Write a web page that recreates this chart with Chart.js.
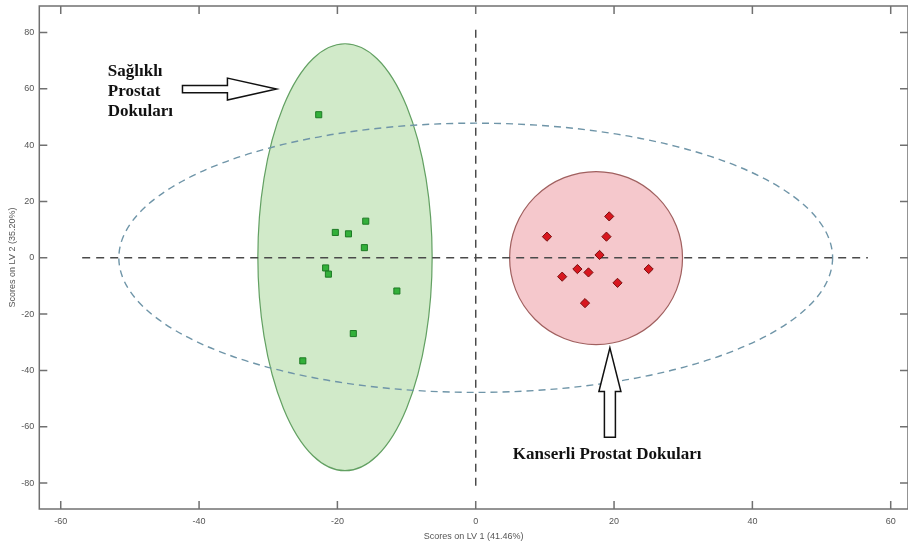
<!DOCTYPE html>
<html>
<head>
<meta charset="utf-8">
<script src="https://cdn.jsdelivr.net/npm/chart.js@4.4.0/dist/chart.umd.min.js"></script>
<style>
  html, body { margin: 0; padding: 0; background: #fff; }
  #wrap { width: 908px; height: 550px; }
</style>
</head>
<body>
<div id="wrap"><canvas id="chart" width="908" height="550"></canvas></div>
<script>
const xTicks = [-60, -40, -20, 0, 20, 40, 60];
const yTicks = [-80, -60, -40, -20, 0, 20, 40, 60, 80];

// LV1 / LV2 scores
const healthyX = [-22.7, -15.9, -20.3, -18.4, -16.1, -21.7, -21.3, -11.4, -17.7, -25.0];
const healthyY = [50.8, 13.0, 9.0, 8.5, 3.6, -3.6, -5.8, -11.8, -26.9, -36.6];
const cancerX = [19.3, 10.3, 18.9, 17.9, 14.7, 16.3, 12.5, 25.0, 20.5, 15.8];
const cancerY = [14.7, 7.5, 7.5, 1.0, -4.0, -5.2, -6.7, -4.0, -8.9, -16.1];

// ellipses: centre x, centre y, half width, half height (data units)
const healthyEllipse = [-18.9, 0.2, 12.6, 75.8];
const cancerEllipse = [17.4, -0.1, 12.5, 30.7];
const totalEllipse = [0, 0, 51.6, 47.8];

// dashed origin lines
const zeroLineX = [-56.9, 56.7];
const zeroLineY = [81, -81];

const healthyLabel = ['Sağlıklı', 'Prostat', 'Dokuları'];
const cancerLabel = 'Kanserli Prostat Dokuları';

const toPoints = (xs, ys) => xs.map((x, i) => ({ x: x, y: ys[i] }));

const ellipsePlugin = {
    id: 'ellipses',
    beforeDatasetsDraw(chart) {
        const ctx = chart.ctx;
        const sx = chart.scales.x, sy = chart.scales.y;
        function drawEllipse(e, fill, stroke, width, dash) {
            const cx = sx.getPixelForValue(e[0]);
            const cy = sy.getPixelForValue(e[1]);
            const rx = Math.abs(sx.getPixelForValue(e[0] + e[2]) - cx);
            const ry = Math.abs(sy.getPixelForValue(e[1] + e[3]) - cy);
            ctx.save();
            ctx.beginPath();
            ctx.ellipse(cx, cy, rx, ry, 0, 0, Math.PI * 2);
            if (fill) {
                ctx.fillStyle = fill;
                ctx.fill();
            }
            ctx.setLineDash(dash || []);
            ctx.lineWidth = width;
            ctx.strokeStyle = stroke;
            ctx.stroke();
            ctx.restore();
        }
        drawEllipse(healthyEllipse, '#d1eac9', '#62a062', 1.2);
        drawEllipse(cancerEllipse, '#f5c8cc', '#a0605f', 1.2);
        drawEllipse(totalEllipse, null, '#6f95a8', 1.4, [7, 5]);
    }
};

const framePlugin = {
    id: 'frame',
    afterDatasetsDraw(chart) {
        const ctx = chart.ctx;
        const a = chart.chartArea;
        const sx = chart.scales.x, sy = chart.scales.y;
        const tick = 8;
        ctx.save();
        ctx.strokeStyle = '#707070';
        ctx.lineWidth = 1.5;
        ctx.strokeRect(a.left, a.top, a.right - a.left, a.bottom - a.top);
        ctx.beginPath();
        xTicks.forEach(v => {
            const px = sx.getPixelForValue(v);
            ctx.moveTo(px, a.bottom); ctx.lineTo(px, a.bottom - tick);
            ctx.moveTo(px, a.top); ctx.lineTo(px, a.top + tick);
        });
        yTicks.forEach(v => {
            const py = sy.getPixelForValue(v);
            ctx.moveTo(a.left, py); ctx.lineTo(a.left + tick, py);
            ctx.moveTo(a.right, py); ctx.lineTo(a.right - tick, py);
        });
        ctx.stroke();
        ctx.restore();
    }
};

const notePlugin = {
    id: 'notes',
    afterDatasetsDraw(chart) {
        const ctx = chart.ctx;
        const sx = chart.scales.x, sy = chart.scales.y;
        const px = v => sx.getPixelForValue(v);
        const py = v => sy.getPixelForValue(v);
        ctx.save();
        ctx.fillStyle = '#fff';
        ctx.strokeStyle = '#111';
        ctx.lineWidth = 1.5;

        // arrow pointing at the healthy group
        let cy = py(59.9), tail = px(-42.4), base = px(-35.9), tip = px(-28.8);
        ctx.beginPath();
        ctx.moveTo(tail, cy - 3.6);
        ctx.lineTo(base, cy - 3.6);
        ctx.lineTo(base, cy - 11);
        ctx.lineTo(tip, cy);
        ctx.lineTo(base, cy + 11);
        ctx.lineTo(base, cy + 3.6);
        ctx.lineTo(tail, cy + 3.6);
        ctx.closePath();
        ctx.fill();
        ctx.stroke();

        // arrow pointing at the cancer group
        let cx = px(19.4), top = py(-32.0), hb = py(-47.5), bot = py(-63.7);
        ctx.beginPath();
        ctx.moveTo(cx, top);
        ctx.lineTo(cx + 11, hb);
        ctx.lineTo(cx + 5.5, hb);
        ctx.lineTo(cx + 5.5, bot);
        ctx.lineTo(cx - 5.5, bot);
        ctx.lineTo(cx - 5.5, hb);
        ctx.lineTo(cx - 11, hb);
        ctx.closePath();
        ctx.fill();
        ctx.stroke();

        ctx.fillStyle = '#111';
        ctx.font = 'bold 17px "Liberation Serif"';
        ctx.textBaseline = 'alphabetic';
        ctx.textAlign = 'left';
        const rows = [64.4, 57.3, 50.5];
        healthyLabel.forEach((t, i) => ctx.fillText(t, px(-53.2), py(rows[i])));
        ctx.textAlign = 'center';
        ctx.fillText(cancerLabel, px(19.0), py(-71.4));
        ctx.restore();
    }
};

new Chart(document.getElementById('chart'), {
    type: 'scatter',
    data: {
        datasets: [
            {
                label: 'Healthy',
                data: toPoints(healthyX, healthyY),
                pointStyle: 'rect',
                pointRadius: 4.3,
                backgroundColor: '#33b03a',
                borderColor: '#1d7a24',
                borderWidth: 1
            },
            {
                label: 'Cancer',
                data: toPoints(cancerX, cancerY),
                pointStyle: 'rectRot',
                pointRadius: 4.6,
                backgroundColor: '#d8171f',
                borderColor: '#7a1010',
                borderWidth: 1
            },
            {
                type: 'line',
                label: 'zeroX',
                data: toPoints(zeroLineX, [0, 0]),
                borderColor: '#4a4a4a',
                borderWidth: 1.5,
                borderDash: [8, 6],
                pointRadius: 0,
                fill: false
            },
            {
                type: 'line',
                label: 'zeroY',
                data: toPoints([0, 0], zeroLineY),
                borderColor: '#4a4a4a',
                borderWidth: 1.5,
                borderDash: [8, 6],
                pointRadius: 0,
                fill: false
            }
        ]
    },
    options: {
        responsive: false,
        animation: false,
        // frame runs just past the right edge, as in the source image
        layout: { autoPadding: false, padding: { top: 6, right: -2, left: 0, bottom: 0 } },
        plugins: {
            legend: { display: false },
            tooltip: { enabled: false }
        },
        scales: {
            x: {
                type: 'linear',
                min: -63.1,
                max: 62.5,
                grid: { display: false, drawTicks: false },
                border: { display: false },
                afterBuildTicks: s => { s.ticks = xTicks.map(v => ({ value: v })); },
                afterFit: s => {
                    s.height = 41;
                    s.paddingLeft = 0;
                    s.paddingRight = 0;
                },
                ticks: {
                    color: '#555',
                    padding: 7,
                    font: { family: 'Liberation Sans', size: 9 }
                },
                title: {
                    display: true,
                    text: 'Scores on LV 1 (41.46%)',
                    color: '#555',
                    font: { family: 'Liberation Sans', size: 9 },
                    padding: { top: 0, bottom: 7.6 }
                }
            },
            y: {
                type: 'linear',
                min: -89.2,
                max: 89.4,
                grid: { display: false, drawTicks: false },
                border: { display: false },
                afterBuildTicks: s => { s.ticks = yTicks.map(v => ({ value: v })); },
                afterFit: s => {
                    s.width = 39.3;
                    s.paddingTop = 0;
                    s.paddingBottom = 0;
                },
                ticks: {
                    color: '#555',
                    padding: 5,
                    font: { family: 'Liberation Sans', size: 9 }
                },
                title: {
                    display: true,
                    text: 'Scores on LV 2 (35.20%)',
                    color: '#555',
                    font: { family: 'Liberation Sans', size: 9 },
                    padding: { top: 7.6, bottom: 0 }
                }
            }
        }
    },
    plugins: [ellipsePlugin, framePlugin, notePlugin]
});
</script>
</body>
</html>
